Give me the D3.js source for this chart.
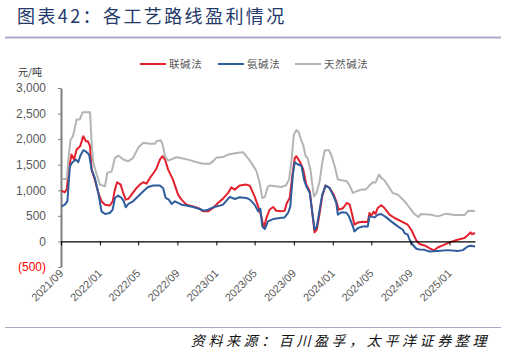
<!DOCTYPE html>
<html><head><meta charset="utf-8">
<script src="https://cdn.jsdelivr.net/npm/d3@7"></script>
<style>body{margin:0;background:#fff}</style></head><body>
<svg id="c" width="507" height="355"></svg>
<script>
const titleText = "图表42：各工艺路线盈利情况";
const sourceText = "资料来源：百川盈孚，太平洋证券整理";
const unitText = "元/吨";
const seriesNames = ["联碱法", "氨碱法", "天然碱法"];
const seriesColors = ["#E3202B", "#2F5C9C", "#B4B4B4"];

const lianjian = [["2021-09-03",994],["2021-09-13",961],["2021-09-19",1020],["2021-09-26",1438],["2021-10-04",1699],["2021-10-12",1601],["2021-10-20",1797],["2021-10-31",1862],["2021-11-10",2058],["2021-11-18",1960],["2021-11-24",1960],["2021-12-01",1862],["2021-12-06",1405],["2021-12-16",1209],["2021-12-27",948],["2022-01-06",784],["2022-01-17",719],["2022-02-01",702],["2022-02-10",784],["2022-02-17",1013],["2022-02-24",1157],["2022-03-07",1111],["2022-03-15",948],["2022-03-23",817],["2022-03-31",830],["2022-04-10",915],["2022-04-26",1046],["2022-05-06",1111],["2022-05-17",1157],["2022-05-27",1130],["2022-06-07",1242],["2022-06-22",1372],["2022-06-28",1438],["2022-07-08",1601],["2022-07-16",1666],["2022-07-24",1601],["2022-08-03",1405],["2022-08-18",1209],["2022-09-03",915],["2022-09-14",817],["2022-09-29",719],["2022-10-20",686],["2022-11-05",654],["2022-11-21",588],["2022-12-06",588],["2022-12-22",654],["2023-01-06",752],["2023-01-22",837],["2023-02-07",948],["2023-02-17",1058],["2023-02-28",1013],["2023-03-15",1092],["2023-04-05",1111],["2023-04-16",1090],["2023-05-01",882],["2023-05-12",686],["2023-05-22",490],["2023-05-30",262],["2023-06-07",458],["2023-06-17",621],["2023-06-28",674],["2023-07-08",600],["2023-07-24",588],["2023-08-03",600],["2023-08-10",752],["2023-08-19",850],["2023-08-27",1274],["2023-09-04",1634],["2023-09-09",1666],["2023-09-19",1568],["2023-09-30",1420],["2023-10-10",1111],["2023-10-21",980],["2023-10-29",556],["2023-11-05",176],["2023-11-12",230],["2023-11-21",556],["2023-11-29",882],["2023-12-09",1092],["2023-12-22",1046],["2024-01-04",915],["2024-01-12",784],["2024-01-20",621],["2024-02-02",650],["2024-02-14",752],["2024-02-23",720],["2024-03-02",523],["2024-03-09",327],["2024-03-20",372],["2024-04-04",385],["2024-04-20",380],["2024-04-25",556],["2024-05-01",500],["2024-05-08",582],["2024-05-14",540],["2024-05-21",654],["2024-06-01",706],["2024-06-11",654],["2024-06-27",523],["2024-07-13",458],["2024-08-03",392],["2024-08-23",327],["2024-09-03",229],["2024-09-19",20],["2024-09-29",-51],["2024-10-15",-78],["2024-10-30",-130],["2024-11-13",-176],["2024-11-25",-118],["2024-12-11",-78],["2025-01-01",-19],["2025-01-26",33],["2025-02-17",66],["2025-03-01",131],["2025-03-08",176],["2025-03-12",140],["2025-03-18",160],["2025-03-22",150]];

const anjian = [["2021-09-03",686],["2021-09-13",719],["2021-09-21",784],["2021-09-29",1470],["2021-10-07",1549],["2021-10-18",1601],["2021-10-25",1549],["2021-11-01",1680],["2021-11-10",1784],["2021-11-18",1760],["2021-11-28",1699],["2021-12-06",1405],["2021-12-16",1242],["2021-12-27",948],["2022-01-06",588],["2022-01-17",536],["2022-02-01",556],["2022-02-10",621],["2022-02-17",850],["2022-02-27",896],["2022-03-10",850],["2022-03-17",784],["2022-03-23",667],["2022-03-31",732],["2022-04-15",784],["2022-05-01",882],["2022-05-17",980],["2022-06-01",1066],["2022-06-17",1092],["2022-07-08",1092],["2022-07-18",1046],["2022-07-26",850],["2022-08-05",817],["2022-08-14",733],["2022-08-24",784],["2022-09-03",752],["2022-09-14",719],["2022-09-29",702],["2022-10-20",674],["2022-11-10",635],["2022-11-23",601],["2022-12-06",621],["2022-12-22",667],["2023-01-12",700],["2023-01-22",719],["2023-02-12",870],["2023-02-28",830],["2023-03-15",863],["2023-04-05",850],["2023-04-16",817],["2023-05-01",719],["2023-05-12",588],["2023-05-19",640],["2023-05-25",294],["2023-06-02",243],["2023-06-12",392],["2023-06-28",437],["2023-07-19",458],["2023-08-03",470],["2023-08-14",556],["2023-08-21",686],["2023-08-29",1307],["2023-09-04",1549],["2023-09-14",1503],["2023-09-25",1480],["2023-10-03",1209],["2023-10-10",1078],["2023-10-21",948],["2023-10-29",556],["2023-11-05",229],["2023-11-12",294],["2023-11-21",621],["2023-11-29",915],["2023-12-10",1092],["2023-12-22",1046],["2024-01-04",882],["2024-01-12",752],["2024-01-17",523],["2024-01-28",570],["2024-02-13",560],["2024-02-21",490],["2024-03-04",294],["2024-03-09",196],["2024-03-20",261],["2024-04-04",294],["2024-04-20",294],["2024-04-25",490],["2024-05-11",470],["2024-05-21",523],["2024-06-01",536],["2024-06-17",470],["2024-07-02",392],["2024-07-23",294],["2024-08-08",229],["2024-08-13",164],["2024-08-23",131],["2024-08-29",33],["2024-09-08",-65],["2024-09-19",-143],["2024-09-29",-157],["2024-10-15",-165],["2024-10-30",-196],["2024-11-25",-185],["2024-12-27",-170],["2025-01-27",-185],["2025-02-12",-170],["2025-02-27",-98],["2025-03-09",-85],["2025-03-22",-100]];

const tianran = [["2021-09-03",1223],["2021-09-19",1223],["2021-09-24",1600],["2021-10-01",1993],["2021-10-08",2050],["2021-10-12",2150],["2021-10-20",2385],["2021-10-30",2385],["2021-11-08",2528],["2021-12-01",2528],["2021-12-06",1929],["2021-12-11",1543],["2021-12-22",1307],["2022-01-01",1111],["2022-01-17",1078],["2022-01-24",1340],["2022-02-07",1370],["2022-02-17",1634],["2022-02-28",1680],["2022-03-15",1601],["2022-03-31",1568],["2022-04-15",1634],["2022-05-01",1830],["2022-05-17",1928],["2022-06-07",1908],["2022-06-22",1908],["2022-06-28",1960],["2022-07-11",1980],["2022-07-18",1862],["2022-07-24",1666],["2022-08-03",1581],["2022-08-29",1646],["2022-09-19",1620],["2022-10-10",1590],["2022-10-31",1549],["2022-11-21",1517],["2022-12-12",1517],["2022-12-22",1570],["2023-01-01",1634],["2023-01-22",1650],["2023-02-07",1699],["2023-03-10",1732],["2023-03-26",1745],["2023-04-05",1670],["2023-04-21",1536],["2023-05-07",1372],["2023-05-17",1144],["2023-05-25",850],["2023-06-02",870],["2023-06-12",1078],["2023-06-17",1092],["2023-07-24",1066],["2023-08-07",1092],["2023-08-17",1209],["2023-08-24",1536],["2023-09-01",2091],["2023-09-09",2176],["2023-09-16",2140],["2023-09-25",1960],["2023-09-30",1895],["2023-10-08",1666],["2023-10-14",1630],["2023-10-23",1405],["2023-10-29",1111],["2023-11-03",882],["2023-11-11",947],["2023-11-21",1176],["2023-11-29",1536],["2023-12-07",1784],["2023-12-20",1784],["2023-12-28",1680],["2024-01-07",1470],["2024-01-17",1209],["2024-02-14",1176],["2024-02-23",1092],["2024-03-04",948],["2024-03-16",980],["2024-03-30",1013],["2024-04-13",1013],["2024-04-25",1092],["2024-05-06",1157],["2024-05-14",1150],["2024-05-25",1307],["2024-06-01",1242],["2024-06-11",1196],["2024-06-22",1092],["2024-07-07",948],["2024-07-23",915],["2024-08-03",850],["2024-08-18",752],["2024-08-29",654],["2024-09-13",536],["2024-09-26",480],["2024-10-04",536],["2024-11-05",523],["2024-11-25",490],["2024-12-22",543],["2025-01-17",515],["2025-02-17",515],["2025-03-01",601],["2025-03-22",595]];

const xTickLabels = ["2021/09","2022/01","2022/05","2022/09","2023/01","2023/05","2023/09","2024/01","2024/05","2024/09","2025/01"];
const yTicks = [-500, 0, 500, 1000, 1500, 2000, 2500, 3000];

const parse = d3.timeParse("%Y-%m-%d");
const parseTick = d3.timeParse("%Y/%m");
const allSeries = [lianjian, anjian, tianran].map(s => s.map(d => ({date: parse(d[0]), value: d[1]})));

const svg = d3.select("#c");
const CJK = "'Noto Sans CJK SC','Noto Sans',sans-serif";
const NUM = "'Liberation Sans',Arial,sans-serif";

// title
svg.append("text").attr("x", 17).attr("y", 23).text(titleText)
  .attr("font-family", CJK).attr("font-size", 18).attr("letter-spacing", 2.4)
  .attr("fill", "#22396A");
svg.append("line").attr("x1", 5).attr("x2", 501).attr("y1", 37.5).attr("y2", 37.5)
  .attr("stroke", "#A8ABCB").attr("stroke-width", 2);
svg.append("line").attr("x1", 5).attr("x2", 501).attr("y1", 327.5).attr("y2", 327.5)
  .attr("stroke", "#A8ABCB").attr("stroke-width", 1);
svg.append("text").attr("x", 490).attr("y", 346).attr("text-anchor", "end").text(sourceText)
  .attr("font-family", CJK).attr("font-size", 14).attr("font-style", "italic")
  .attr("letter-spacing", 3.6).attr("fill", "#111");

const x = d3.scaleTime().domain([new Date(2021, 8, 1), new Date(2025, 2, 22)]).range([61, 475]);
const y = d3.scaleLinear().domain([-500, 3000]).range([267, 88]);

// y axis
const yAxis = svg.append("g").attr("transform", "translate(61,0)")
  .call(d3.axisLeft(y).tickValues(yTicks).tickSize(3).tickSizeOuter(0)
    .tickFormat(v => v < 0 ? "(" + d3.format(",")(-v) + ")" : d3.format(",")(v)));
yAxis.select(".domain").attr("stroke", "#7F7F7F").attr("stroke-width", 2);
yAxis.selectAll(".tick line").attr("stroke", "#7F7F7F");
yAxis.selectAll(".tick text").attr("x", -15).attr("font-family", NUM).attr("font-size", 12)
  .attr("fill", d => d < 0 ? "#FF0000" : "#595959");

svg.append("text").attr("x", 18).attr("y", 76).text(unitText)
  .attr("font-family", CJK).attr("font-size", 10).attr("fill", "#333");

// lines
const line = d3.line().x(d => x(d.date)).y(d => y(d.value));
svg.append("g").selectAll("path").data(allSeries).join("path")
  .attr("d", line).attr("fill", "none")
  .attr("stroke", (d, i) => seriesColors[i]).attr("stroke-width", 2)
  .attr("stroke-linejoin", "round");

// x axis at zero
const tickDates = xTickLabels.map(parseTick);
const xAxis = svg.append("g").attr("transform", `translate(0,${y(0)})`)
  .call(d3.axisBottom(x).tickValues(tickDates).tickSize(4).tickSizeOuter(0).tickFormat(""));
xAxis.select(".domain").attr("stroke", "#000").attr("stroke-width", 1.3);
xAxis.selectAll(".tick line").attr("stroke", "#000");

svg.append("g").selectAll("text").data(tickDates).join("text")
  .attr("transform", (d, i) => `translate(${x(d) + 3},274) rotate(-45)`)
  .attr("text-anchor", "end").text((d, i) => xTickLabels[i])
  .attr("font-family", NUM).attr("font-size", 11).attr("fill", "#595959");

// legend
const legendX = [140, 218, 295];
const lg = svg.append("g").selectAll("g").data(seriesNames).join("g")
  .attr("transform", (d, i) => `translate(${legendX[i]},64)`);
lg.append("line").attr("x1", 0).attr("x2", 26).attr("y1", 0).attr("y2", 0)
  .attr("stroke", (d, i) => seriesColors[i]).attr("stroke-width", 2);
lg.append("text").attr("x", 29).attr("y", 4).text(d => d)
  .attr("font-family", CJK).attr("font-size", 10.5).attr("letter-spacing", 0.6).attr("fill", "#595959");
</script></body></html>
